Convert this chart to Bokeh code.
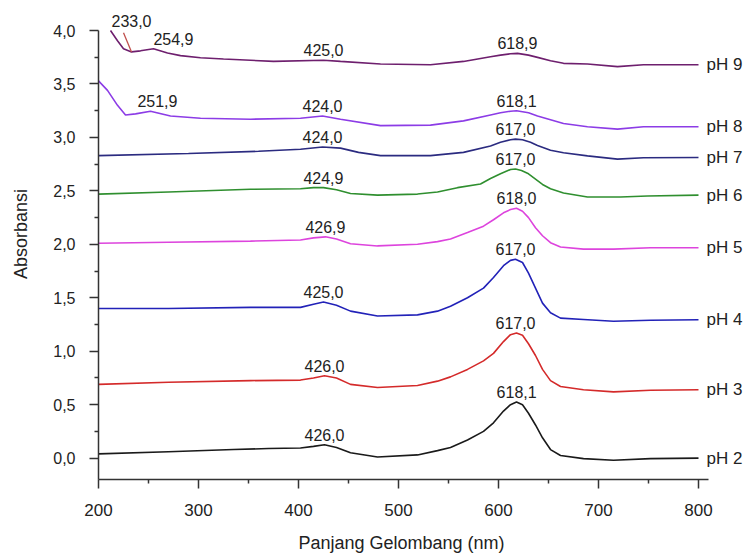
import numpy as np
from bokeh.plotting import figure
from bokeh.models import Range1d, FixedTicker, CustomJSTickFormatter, ColumnDataSource
from bokeh.core.properties import value
from bokeh.embed import file_html
from bokeh.resources import INLINE

# ---------------- data ----------------
wl_ph2 = [200, 270, 335, 370, 402, 415, 426, 438, 452, 479, 519, 539, 552, 569, 585, 595, 605, 612, 618, 624, 630, 637, 644, 652, 662, 685, 715, 752, 800]
ab_ph2 = [0.04, 0.06, 0.08, 0.09, 0.095, 0.11, 0.125, 0.10, 0.05, 0.01, 0.03, 0.07, 0.10, 0.17, 0.25, 0.33, 0.44, 0.50, 0.525, 0.50, 0.42, 0.31, 0.19, 0.08, 0.025, -0.005, -0.02, -0.005, 0.00]

wl_ph3 = [200, 270, 352, 402, 415, 426, 438, 452, 479, 519, 539, 552, 569, 585, 595, 605, 612, 618, 624, 630, 637, 644, 652, 662, 685, 715, 752, 800]
ab_ph3 = [0.69, 0.71, 0.725, 0.73, 0.75, 0.77, 0.75, 0.69, 0.66, 0.68, 0.72, 0.76, 0.83, 0.91, 0.98, 1.09, 1.155, 1.17, 1.15, 1.07, 0.96, 0.83, 0.725, 0.67, 0.64, 0.62, 0.635, 0.64]

wl_ph4 = [200, 270, 352, 402, 415, 425, 438, 452, 479, 519, 539, 552, 569, 585, 595, 605, 612, 617, 624, 630, 637, 644, 652, 662, 685, 715, 752, 800]
ab_ph4 = [1.40, 1.40, 1.41, 1.41, 1.44, 1.46, 1.43, 1.375, 1.33, 1.34, 1.375, 1.42, 1.50, 1.59, 1.69, 1.80, 1.85, 1.86, 1.83, 1.73, 1.59, 1.45, 1.36, 1.31, 1.297, 1.28, 1.29, 1.295]

wl_ph5 = [200, 270, 352, 402, 415, 427, 438, 452, 479, 519, 539, 552, 569, 585, 595, 605, 612, 618, 624, 630, 637, 644, 652, 662, 685, 715, 752, 800]
ab_ph5 = [2.01, 2.02, 2.03, 2.04, 2.06, 2.07, 2.05, 2.005, 1.985, 2.00, 2.025, 2.05, 2.11, 2.17, 2.23, 2.295, 2.325, 2.337, 2.31, 2.25, 2.155, 2.08, 2.015, 1.975, 1.955, 1.955, 1.968, 1.968]

wl_ph6 = [200, 270, 352, 402, 415, 425, 438, 452, 479, 519, 539, 559, 582, 592, 602, 612, 617, 623, 630, 637, 644, 652, 665, 689, 722, 749, 800]
ab_ph6 = [2.47, 2.49, 2.515, 2.52, 2.53, 2.53, 2.51, 2.475, 2.46, 2.47, 2.49, 2.53, 2.565, 2.615, 2.66, 2.70, 2.705, 2.69, 2.66, 2.61, 2.56, 2.52, 2.48, 2.443, 2.443, 2.452, 2.46]

wl_ph7 = [200, 290, 360, 402, 424, 442, 460, 482, 532, 565, 592, 602, 612, 617, 624, 632, 639, 652, 665, 689, 719, 745, 800]
ab_ph7 = [2.83, 2.85, 2.87, 2.89, 2.91, 2.90, 2.86, 2.83, 2.83, 2.86, 2.92, 2.955, 2.978, 2.984, 2.978, 2.955, 2.925, 2.88, 2.856, 2.827, 2.797, 2.81, 2.812]

wl_ph8 = [200, 209, 219, 227, 237, 252, 272, 302, 352, 402, 424, 442, 482, 532, 565, 592, 602, 612, 618, 630, 639, 652, 665, 689, 719, 745, 800]
ab_ph8 = [3.53, 3.44, 3.30, 3.21, 3.22, 3.245, 3.20, 3.18, 3.17, 3.18, 3.20, 3.17, 3.11, 3.115, 3.155, 3.21, 3.23, 3.245, 3.25, 3.23, 3.20, 3.166, 3.13, 3.10, 3.078, 3.10, 3.10]

wl_ph9 = [212, 219, 225, 233, 242, 255, 269, 282, 302, 325, 375, 425, 442, 482, 532, 565, 592, 602, 612, 619, 630, 639, 652, 665, 689, 719, 745, 800]
ab_ph9 = [4.00, 3.905, 3.83, 3.80, 3.81, 3.83, 3.79, 3.765, 3.746, 3.734, 3.711, 3.722, 3.711, 3.687, 3.68, 3.711, 3.755, 3.77, 3.782, 3.786, 3.77, 3.749, 3.718, 3.693, 3.687, 3.662, 3.68, 3.68]

series_names = ["pH 2", "pH 3", "pH 4", "pH 5", "pH 6", "pH 7", "pH 8", "pH 9"]

peaks_ph2 = [426.0, 618.1]
peaks_ph3 = [426.0, 617.0]
peaks_ph4 = [425.0, 617.0]
peaks_ph5 = [426.9, 618.0]
peaks_ph6 = [424.9, 617.0]
peaks_ph7 = [424.0, 617.0]
peaks_ph8 = [251.9, 424.0, 618.1]
peaks_ph9 = [233.0, 254.9, 425.0, 618.9]

x_ticks = [200, 300, 400, 500, 600, 700, 800]
y_ticks = [0.0, 0.5, 1.0, 1.5, 2.0, 2.5, 3.0, 3.5, 4.0]

x_title = "Panjang Gelombang (nm)"
y_title = "Absorbansi"

# ---------------- styling ----------------
colors = ["#1a1a1a", "#d42a2a", "#2222b8", "#dd44dd", "#2f8f2f", "#2b2b80", "#8c3ce6", "#6e1f6e"]
FONT = "Liberation Sans"
TXT = "#222222"
NBSP = "\u00a0"

wls = [wl_ph2, wl_ph3, wl_ph4, wl_ph5, wl_ph6, wl_ph7, wl_ph8, wl_ph9]
abs_ = [ab_ph2, ab_ph3, ab_ph4, ab_ph5, ab_ph6, ab_ph7, ab_ph8, ab_ph9]
peaks = [peaks_ph2, peaks_ph3, peaks_ph4, peaks_ph5, peaks_ph6, peaks_ph7, peaks_ph8, peaks_ph9]

p = figure(width=746, height=557, x_range=Range1d(200, 846), y_range=Range1d(-0.2, 4.206),
           output_backend="svg", toolbar_location=None, title=None,
           min_border_left=98, min_border_right=2, min_border_top=8, min_border_bottom=78)
p.outline_line_color = None
p.xgrid.visible = False
p.ygrid.visible = False
p.background_fill_color = "white"
p.border_fill_color = "white"

for wl, ab, c in zip(wls, abs_, colors):
    p.line(wl, ab, line_color=c, line_width=1.6)

# peak labels
lx, ly, lt, la, lxo, lyo = [], [], [], [], [], []
special = {233.0: ("center", 0, -25), 254.9: ("left", 0, -4), 251.9: ("left", -13, -4)}
for wl, ab, pk in zip(wls, abs_, peaks):
    for v in pk:
        lx.append(v)
        ly.append(float(np.interp(v, wl, ab)))
        lt.append(f"{v:.1f}".replace(".", ","))
        al, xo, yo = special.get(v, ("center", 0, -4))
        la.append(al); lxo.append(xo); lyo.append(yo)
src = ColumnDataSource(dict(x=lx, y=ly, t=lt, a=la, xo=lxo, yo=lyo))
p.text(x="x", y="y", text="t", source=src, text_align="a", text_baseline="bottom",
       x_offset="xo", y_offset="yo", text_font=value(FONT), text_font_size=value("16px"), text_color=TXT)

# leader line for the 233,0 label
x0 = peaks_ph9[0]
y0 = float(np.interp(x0, wl_ph9, ab_ph9))
p.segment(x0=[x0], y0=[y0], x1=[x0 - 8], y1=[y0 + 0.18], line_color="#c0504d", line_width=1.3)

# pH labels at line ends
end_src = ColumnDataSource(dict(x=[w[-1] for w in wls], y=[a[-1] for a in abs_], t=series_names))
p.text(x="x", y="y", text="t", source=end_src, x_offset=8, text_baseline="middle", text_align="left",
       text_font=value(FONT), text_font_size=value("17px"), text_color=TXT)

# axes
for ax in (p.xaxis[0], p.yaxis[0]):
    ax.axis_line_color = "#333333"
    ax.axis_line_width = 1.5
    ax.major_tick_line_color = "#333333"
    ax.major_tick_line_width = 1.5
    ax.minor_tick_line_color = "#333333"
    ax.minor_tick_line_width = 1.5
    ax.major_tick_out = 9
    ax.major_tick_in = 0
    ax.minor_tick_out = 4
    ax.minor_tick_in = 0
    ax.major_label_text_font = FONT
    ax.major_label_text_font_size = "16px"
    ax.major_label_text_color = TXT
    ax.axis_label_text_font = FONT
    ax.axis_label_text_font_size = "18px"
    ax.axis_label_text_font_style = "normal"
    ax.axis_label_text_color = TXT

p.xaxis.bounds = (200, 810)
p.xaxis.ticker = FixedTicker(ticks=x_ticks, minor_ticks=[t + 50 for t in x_ticks[:-1]])
p.xaxis.formatter = CustomJSTickFormatter(code="return tick.toFixed(0);")
p.xaxis.major_label_text_font_size = "17px"
p.xaxis.major_label_standoff = 15
# trailing no-break spaces shift the centred title left, under the 200-800 axis span
p.xaxis.axis_label = x_title + NBSP * 8
p.xaxis.axis_label_standoff = 14

p.yaxis.bounds = (-0.2, 4.0)
p.yaxis.ticker = FixedTicker(ticks=y_ticks, minor_ticks=[t + 0.25 for t in y_ticks[:-1]])
p.yaxis.formatter = CustomJSTickFormatter(code="return tick.toFixed(1).replace('.', ',');")
p.yaxis.major_label_standoff = 14
p.yaxis.axis_label = NBSP * 4 + y_title
p.yaxis.axis_label_standoff = 19

open("out.html", "w").write(file_html(p, INLINE))
